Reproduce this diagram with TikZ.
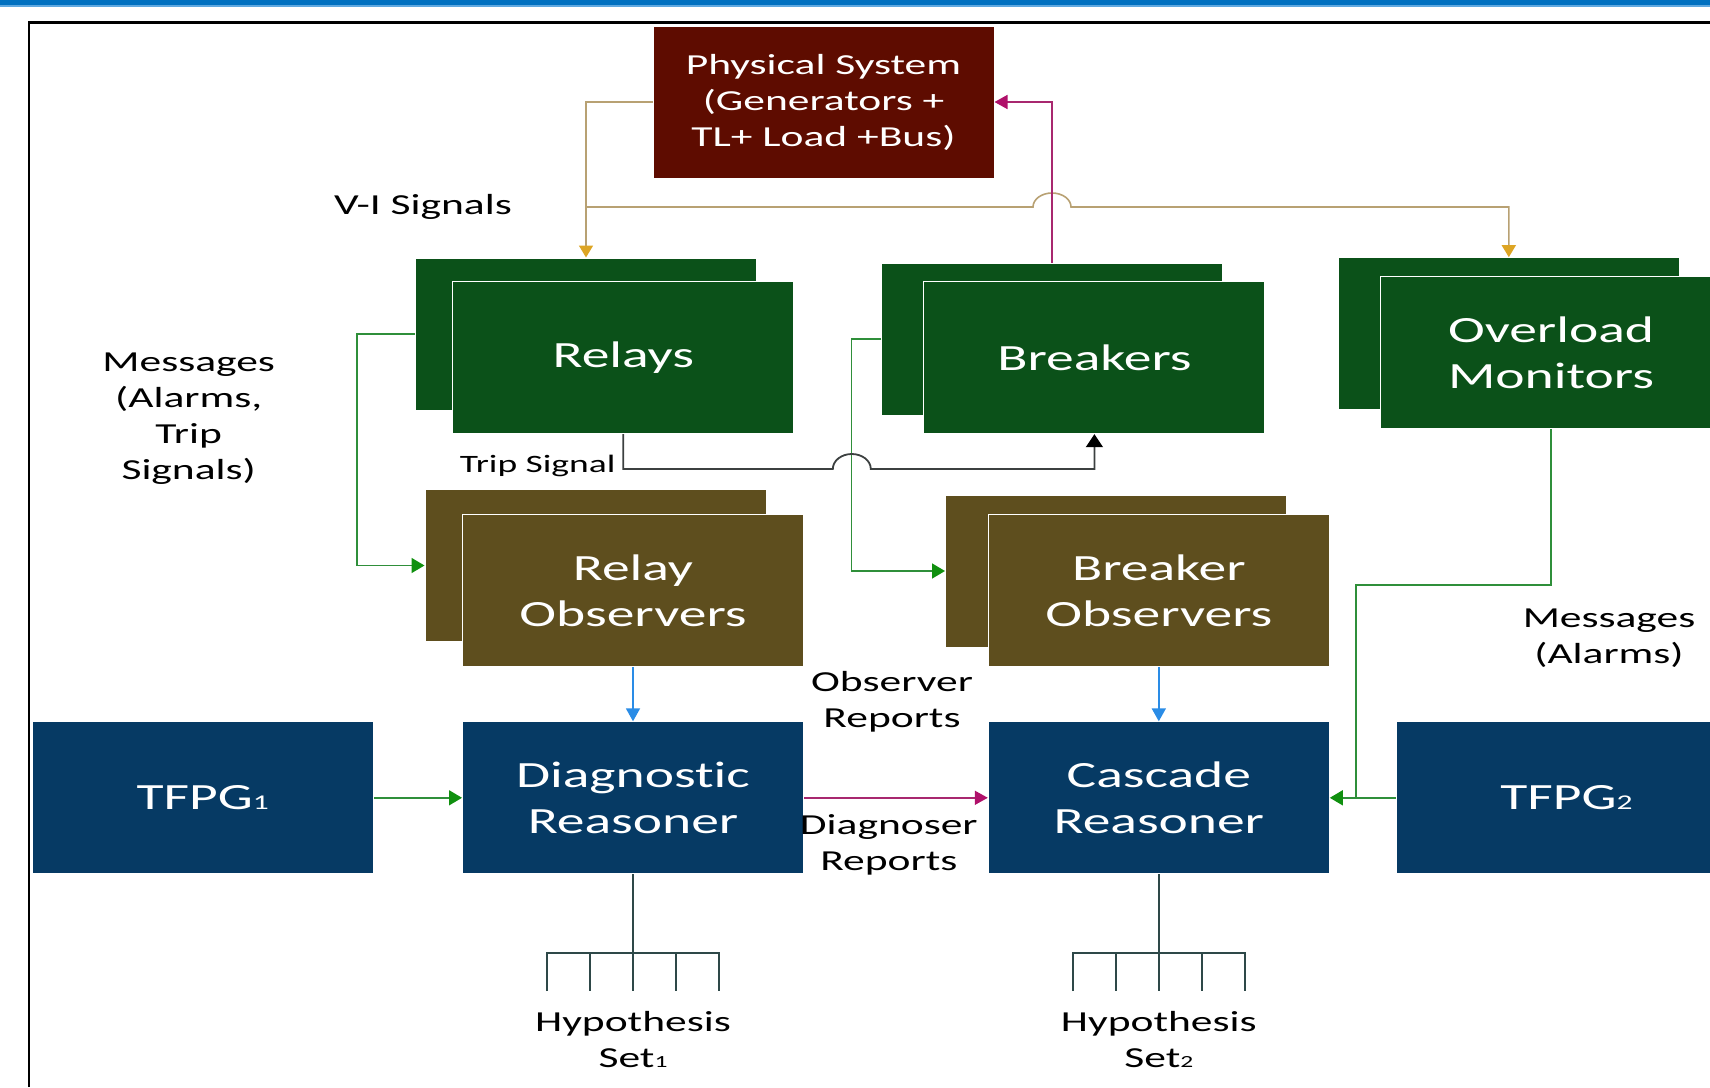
\documentclass[tikz,border=0pt]{standalone}
\usepackage{fontspec}
\setmainfont{Carlito}[FakeStretch=1.5, Ligatures={NoCommon}]
\usepackage{tikz}
\usetikzlibrary{arrows.meta,calc}
\definecolor{barblue}{HTML}{0070C0}
\definecolor{barlight}{HTML}{5FA8E0}
\definecolor{physred}{HTML}{5E0C00}
\definecolor{devgreen}{HTML}{0B5119}
\definecolor{obsbrown}{HTML}{5E4E1E}
\definecolor{navy}{HTML}{063A64}
\definecolor{viline}{HTML}{B8A173}
\definecolor{vihead}{HTML}{DDA524}
\definecolor{fbline}{HTML}{A8286F}
\definecolor{fbhead}{HTML}{B0106A}
\definecolor{msgline}{HTML}{2F8F3A}
\definecolor{msghead}{HTML}{10900F}
\definecolor{repline}{HTML}{2A8CE6}
\definecolor{tripline}{HTML}{3C4040}
\definecolor{treeline}{HTML}{2E4848}
\tikzset{
  box/.style={draw=white, line width=1pt, minimum width=341pt, minimum height=152pt,
    inner sep=0pt, text=white, align=center, font=\fontsize{37}{46}\selectfont},
  devbox/.style={box, fill=devgreen},
  obsbox/.style={box, fill=obsbrown},
  rsnbox/.style={box, fill=navy},
  lab/.style={text=black, align=center, font=\fontsize{29}{36}\selectfont},
  vi/.style={draw=viline, line width=1.6pt},
  viarrow/.style={vi, -{Triangle[length=12pt, width=14pt, color=vihead]}},
  fb/.style={draw=fbline, line width=1.6pt, -{Triangle[length=13pt, width=14pt, color=fbhead]}},
  msg/.style={draw=msgline, line width=1.6pt},
  msgarrow/.style={msg, -{Triangle[length=13pt, width=15pt, color=msghead]}},
  rep/.style={draw=repline, line width=1.8pt, -{Triangle[length=13pt, width=14pt]}},
  trip/.style={draw=tripline, line width=1.8pt},
  tree/.style={draw=treeline, line width=1.6pt}
}
\begin{document}
\begin{tikzpicture}[x=1pt, y=-1pt]
  \useasboundingbox (0,0) rectangle (1710,1087);
  \clip (0,0) rectangle (1710,1087);

  % header bar and frame
  \fill[barblue] (0,0) rectangle (1710,5);
  \fill[barlight] (0,5) rectangle (1710,7);
  \draw[line width=2.5pt] (29,1087) -- (29,22.5) -- (1710,22.5);

  \node[box, fill=physred, font=\fontsize{29}{36}\selectfont] (phys) at (823.5,102)
    {Physical System\\(Generators +\\TL+ Load +Bus)};

  % devices, each a stack of two
  \node[devbox] (relaysB) at (586,334) {};
  \node[devbox] (relays) at (623.3,357.7) {Relays};
  \node[devbox] (breakB) at (1052,339) {};
  \node[devbox] (breakers) at (1094.4,357.7) {Breakers};
  \node[devbox] (overB) at (1508.8,333.7) {};
  \node[devbox] (over) at (1551,352.3) {Overload\\Monitors};

  \node[obsbox] (relobsB) at (595.5,565.5) {};
  \node[obsbox] (relobs) at (633,590.5) {Relay\\Observers};
  \node[obsbox] (brkobsB) at (1116,571) {};
  \node[obsbox] (brkobs) at (1158.8,590.5) {Breaker\\Observers};

  \node[rsnbox] (tfpgA) at (202.8,797.8) {TFPG{\fontsize{21}{21}\selectfont 1}};
  \node[rsnbox] (diag) at (633,797.8) {Diagnostic\\Reasoner};
  \node[rsnbox] (cascade) at (1158.8,797.8) {Cascade\\Reasoner};
  \node[rsnbox] (tfpgB) at (1566.5,797.8) {TFPG{\fontsize{21}{21}\selectfont 2}};

  \coordinate (viy) at (0,207);
  \coordinate (hop2) at (851.8,469);
  \coordinate (ovjoin) at ($(cascade.east)+(26,0)$);

  % V-I signals
  \draw[viarrow] (phys.west) -| (relaysB.north);
  \draw[viarrow] (relaysB.north |- viy) -- ($(breakB.north |- viy)+(-19,0)$)
    arc[start angle=180, end angle=0, x radius=19pt, y radius=14pt] -| (overB.north);
  \draw[fb] (breakB.north) |- (phys.east);

  % messages to the observers
  \draw[msgarrow] (relaysB.west) -- ++(-58,0) |- (relobsB.west);
  \draw[msgarrow] (breakB.west) -- ++(-29.4,0) |- (brkobsB.west);

  % trip signal hops over the green line
  \draw[trip, -{Triangle[length=13pt, width=17pt, color=black]}] (relays.south) |- ($(hop2)+(-19,0)$)
    arc[start angle=180, end angle=0, x radius=19pt, y radius=15pt] -| (breakers.south);

  \draw[msg] (over.south) -- ++(0,156) -| (ovjoin);
  \draw[msgarrow] (tfpgB.west) -- (cascade.east);
  \draw[msgarrow] (tfpgA.east) -- (diag.west);
  \draw[rep] (relobs.south) -- (diag.north);
  \draw[rep] (brkobs.south) -- (cascade.north);
  \draw[fb] (diag.east) -- (cascade.west);

  % hypothesis sets
  \draw[tree] (diag.south) -- ++(0,78.4) coordinate (bar1);
  \draw[tree] ($(bar1)+(-86,38.5)$) |- ($(bar1)+(86,0)$) -- ++(0,38.5);
  \draw[tree] ($(bar1)+(-43,0)$) -- ++(0,38.5);
  \draw[tree] (bar1) -- ++(0,38.5);
  \draw[tree] ($(bar1)+(43,0)$) -- ++(0,38.5);
  \draw[tree] (cascade.south) -- ++(0,78.4) coordinate (bar2);
  \draw[tree] ($(bar2)+(-86,38.5)$) |- ($(bar2)+(86,0)$) -- ++(0,38.5);
  \draw[tree] ($(bar2)+(-43,0)$) -- ++(0,38.5);
  \draw[tree] (bar2) -- ++(0,38.5);
  \draw[tree] ($(bar2)+(43,0)$) -- ++(0,38.5);

  % labels
  \node[lab] (vilab) at (423,207) {V-I Signals};
  \node[lab] (msglabA) at (188.7,419) {Messages\\(Alarms,\\Trip\\Signals)};
  \node[lab, font=\fontsize{25}{30}\selectfont, anchor=east] (triplab) at (619,466) {Trip Signal};
  \node[lab] (obsrep) at (892,701.8) {Observer\\Reports};
  \node[lab] (diagrep) at (888.8,844.7) {Diagnoser\\Reports};
  \node[lab] (msglabB) at (1609,638.6) {Messages\\(Alarms)};
  \node[lab] (hyp1) at ($(bar1)+(0,87)$) {Hypothesis\\Set{\fontsize{17}{17}\selectfont 1}};
  \node[lab] (hyp2) at ($(bar2)+(0,87)$) {Hypothesis\\Set{\fontsize{17}{17}\selectfont 2}};
\end{tikzpicture}
\end{document}
